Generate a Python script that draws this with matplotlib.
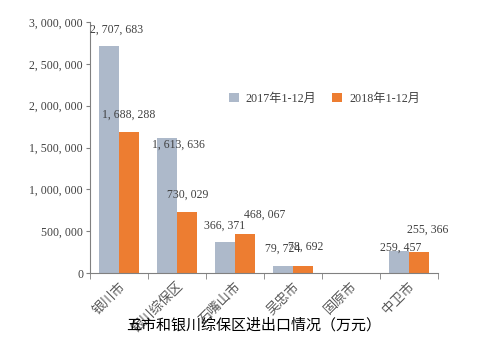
import numpy as np
import matplotlib
matplotlib.use("Agg")
import matplotlib.pyplot as plt

plt.rcParams['font.family'] = ['Liberation Serif', 'Noto Sans CJK SC']

# 进出口数据（万元）
cities = ['银川市', '银川综保区', '石嘴山市', '吴忠市', '固原市', '中卫市']
v2017 = [2707683, 1613636, 366371, 79724, 0, 259457]
v2018 = [1688288, 730029, 468067, 78692, 0, 255366]
series_names = ['2017年1-12月', '2018年1-12月']
yticks = [0, 500000, 1000000, 1500000, 2000000, 2500000, 3000000]

# 数据标签相对柱顶的偏移（像素）
off2017 = [(8, 17), (11, -7), (0, 17), (0, 18), (0, 0), (2, 4)]
off2018 = [(0, 17), (1, 17), (20, 19), (3, 20), (0, 0), (9, 22)]

c2017 = '#ADB9CA'
c2018 = '#ED7D31'


def fmt(v):
    return '{:,}'.format(int(v)).replace(',', ', ')


fig = plt.figure(figsize=(4.95, 3.44), dpi=100)
ax = fig.add_axes([90 / 495, 1 - 273 / 344, 348 / 495, 251 / 344])

x = np.arange(len(cities))
w = 0.345
b1 = ax.bar(x - w / 2, v2017, w, color=c2017, label=series_names[0])
b2 = ax.bar(x + w / 2, v2018, w, color=c2018, label=series_names[1])

for bars, vals, offs in [(b1, v2017, off2017), (b2, v2018, off2018)]:
    for r, v, (dx, dy) in zip(bars, vals, offs):
        if v == 0:
            continue
        ax.annotate(fmt(v), (r.get_x() + r.get_width() / 2, v),
                    xytext=(dx * 0.72, dy * 0.72), textcoords='offset points',
                    ha='center', va='center', fontsize=8.5, color='#404040')

ax.set_xlim(-0.5, len(cities) - 0.5)
ax.set_ylim(0, 3000000)
ax.set_yticks(yticks)
ax.set_yticklabels([fmt(v) for v in yticks], fontsize=8.5, color='#404040')

ax.set_xticks(x)
ax.set_xticklabels(cities, rotation=45, ha='right', rotation_mode='anchor',
                   fontsize=9.5, color='#595959')
ax.tick_params(axis='x', length=0, pad=5)
ax.set_xticks(np.arange(len(cities) + 1) - 0.5, minor=True)
ax.tick_params(axis='x', which='minor', length=4, color='#808080')
ax.tick_params(axis='y', length=3, color='#808080', pad=2)

for s in ['top', 'right']:
    ax.spines[s].set_visible(False)
for s in ['left', 'bottom']:
    ax.spines[s].set_color('#808080')

ax.legend(loc='upper left', bbox_to_anchor=(128 / 348, 1 - 60 / 251), ncol=2,
          frameon=False, fontsize=8.7, handlelength=0.8, handleheight=0.8,
          columnspacing=1.3, handletextpad=0.6, labelcolor='#404040')

fig.text(254 / 495, 1 - 325 / 344, '五市和银川综保区进出口情况（万元）',
         ha='center', va='center', fontsize=10.8, family=['Noto Sans CJK SC'])

fig.savefig('out.png', dpi=100)
